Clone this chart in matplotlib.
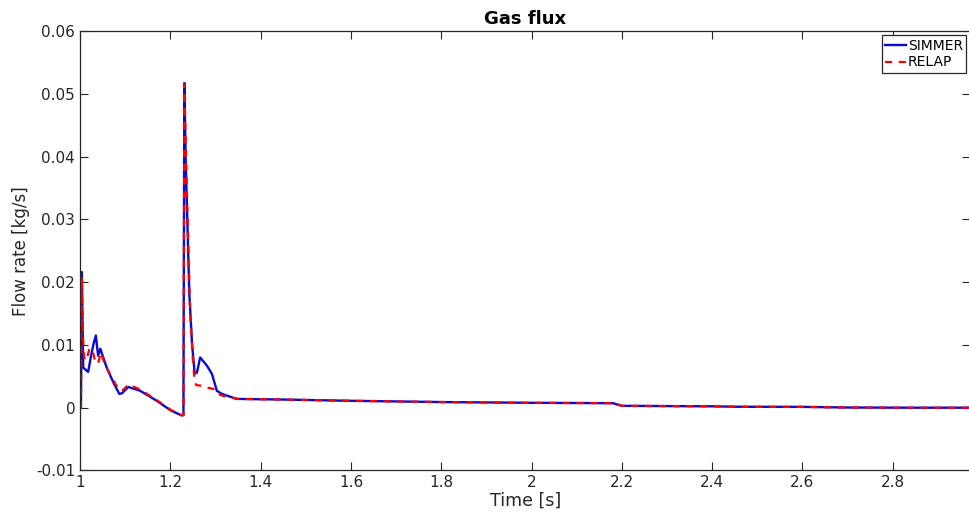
from matplotlib import pyplot as plt

# SIMMER curve
t_simmer = [1.000, 1.002, 1.004, 1.007, 1.018, 1.025, 1.031, 1.035, 1.040, 1.045,
            1.050, 1.059, 1.074, 1.087, 1.093, 1.107, 1.133, 1.170, 1.200, 1.224,
            1.229, 1.231, 1.234, 1.237, 1.242, 1.248, 1.254, 1.259, 1.266, 1.281,
            1.292, 1.303, 1.314, 1.347, 1.45, 1.60, 1.80, 2.00, 2.18, 2.20,
            2.40, 2.46, 2.60, 2.70, 2.85, 2.97]
v_simmer = [0.0, 0.0, 0.0216, 0.0064, 0.0057, 0.0085, 0.0105, 0.0115, 0.0083, 0.0094,
            0.0083, 0.0064, 0.0040, 0.0022, 0.0023, 0.0033, 0.0027, 0.0011, -0.0004, -0.0012,
            -0.0012, 0.0517, 0.0394, 0.0314, 0.0182, 0.0102, 0.0054, 0.0056, 0.0080, 0.0067,
            0.0054, 0.0027, 0.0022, 0.0014, 0.0013, 0.0011, 0.0009, 0.00078, 0.00072, 0.0003,
            0.00022, 0.00015, 0.00013, 0.00003, 0.0, 0.0]

# RELAP curve
t_relap = [1.000, 1.002, 1.004, 1.006, 1.009, 1.014, 1.020, 1.027, 1.033, 1.040,
           1.046, 1.052, 1.060, 1.075, 1.087, 1.095, 1.107, 1.133, 1.170, 1.200,
           1.224, 1.229, 1.231, 1.235, 1.238, 1.244, 1.250, 1.253, 1.257, 1.270,
           1.282, 1.295, 1.305, 1.316, 1.35, 1.45, 1.60, 1.80, 2.00, 2.18,
           2.20, 2.40, 2.46, 2.60, 2.70, 2.85, 2.97]
v_relap = [0.0, 0.0, 0.0208, 0.012, 0.008, 0.0075, 0.0092, 0.0094, 0.0075, 0.0070,
           0.0088, 0.0075, 0.0062, 0.0042, 0.0028, 0.0028, 0.0037, 0.0029, 0.0012, -0.0003,
           -0.0012, -0.0012, 0.0515, 0.039, 0.031, 0.015, 0.0075, 0.0048, 0.0036, 0.0035,
           0.0032, 0.0030, 0.0022, 0.0019, 0.0014, 0.0013, 0.0011, 0.0009, 0.00078, 0.00072,
           0.0003, 0.00022, 0.00015, 0.00013, 0.00003, 0.0, 0.0]

xticks = [1, 1.2, 1.4, 1.6, 1.8, 2, 2.2, 2.4, 2.6, 2.8]
xticklabels = ["1", "1.2", "1.4", "1.6", "1.8", "2", "2.2", "2.4", "2.6", "2.8"]
yticks = [-0.01, 0, 0.01, 0.02, 0.03, 0.04, 0.05, 0.06]
yticklabels = ["-0.01", "0", "0.01", "0.02", "0.03", "0.04", "0.05", "0.06"]

dark = "#262626"

fig = plt.figure(figsize=(9.69, 5.2), dpi=100)
ax = fig.add_axes([0.0826, 0.0952, 1.0015 - 0.0826, 0.9404 - 0.0952])

ax.plot(t_simmer, v_simmer, color="#0a0ad2", lw=1.7, label="SIMMER")
ax.plot(t_relap, v_relap, color="#ff0000", lw=1.6, dashes=(3.2, 3), label="RELAP")

ax.set_xlim(1, 2.972)
ax.set_ylim(-0.01, 0.06)
ax.set_xticks(xticks)
ax.set_xticklabels(xticklabels)
ax.set_yticks(yticks)
ax.set_yticklabels(yticklabels)
ax.tick_params(direction="in", top=True, right=True, length=6, width=0.8,
               labelsize=11, colors=dark, labelcolor=dark)
for s in ax.spines.values():
    s.set_color(dark)
    s.set_linewidth(0.9)

ax.set_xlabel("Time [s]", fontsize=12.5, color=dark, labelpad=1)
ax.set_ylabel("Flow rate [kg/s]", fontsize=12, color=dark, labelpad=4)
ax.set_title("Gas flux", fontsize=13, fontweight="bold", color="black", pad=5)

leg = ax.legend(loc="upper right", fontsize=10, handlelength=1.45, handletextpad=0.15,
                borderaxespad=0.3, borderpad=0.25, labelspacing=0.2, fancybox=False,
                framealpha=1)
leg.get_frame().set_edgecolor(dark)
leg.get_frame().set_linewidth(0.9)

plt.savefig("out.png", dpi=100)
